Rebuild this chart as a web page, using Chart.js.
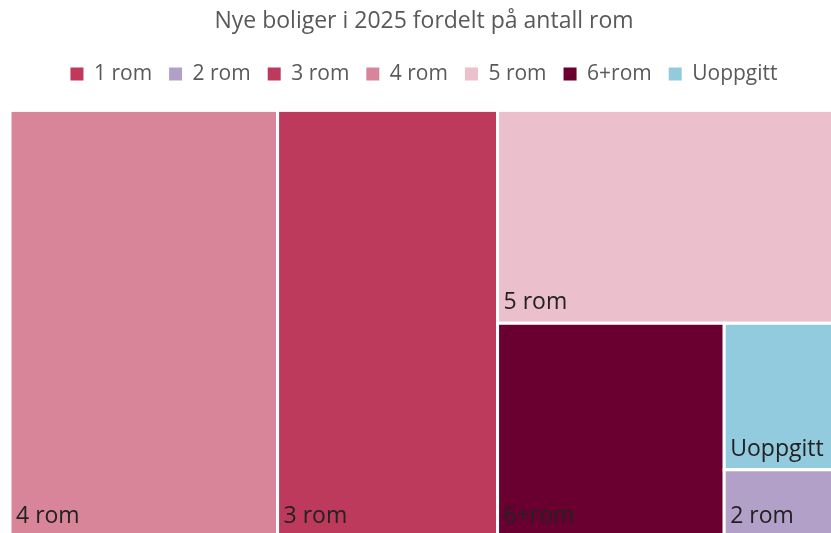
<!DOCTYPE html>
<html>
<head>
<meta charset="utf-8">
<script src="https://cdn.jsdelivr.net/npm/chart.js@4/dist/chart.umd.min.js"></script>
<style>
  html, body { margin: 0; padding: 0; background: #fff; overflow: hidden; }
  #wrap { position: absolute; left: 0; top: 0; width: 844px; height: 547px; }
</style>
</head>
<body>
<div id="wrap"><canvas id="chart" width="844" height="547"></canvas></div>
<script>
// Kategorier og antall nye boliger (lest av figuren)
const categories = ['1 rom', '2 rom', '3 rom', '4 rom', '5 rom', '6+rom', 'Uoppgitt'];
const values = [10, 380, 4785, 5820, 3695, 2470, 850];
const colors = ['#C2385C', '#B3A0C9', '#BD3A5C', '#D88599', '#EBBFCB', '#690030', '#92CBDD'];

const FONT = "'Open Sans', 'Noto Sans', sans-serif";

// squarified treemap, regner i piksler fra skalaene
function worst(row, side) {
    const s = row.reduce((a, r) => a + r.area, 0);
    let w = 0;
    row.forEach(r => {
        w = Math.max(w, (side * side * r.area) / (s * s), (s * s) / (side * side * r.area));
    });
    return w;
}

function placeRow(row, rect, out) {
    const s = row.reduce((a, r) => a + r.area, 0);
    if (rect.w >= rect.h) {
        const cw = s / rect.h;
        let y = rect.y;
        row.forEach(r => {
            const h = r.area / cw;
            out.push({ i: r.i, x: rect.x, y: y, w: cw, h: h });
            y += h;
        });
        return { x: rect.x + cw, y: rect.y, w: rect.w - cw, h: rect.h };
    } else {
        const rh = s / rect.w;
        let x = rect.x;
        row.forEach(r => {
            const w = r.area / rh;
            out.push({ i: r.i, x: x, y: rect.y, w: w, h: rh });
            x += w;
        });
        return { x: rect.x, y: rect.y + rh, w: rect.w, h: rect.h - rh };
    }
}

function squarify(items, rect) {
    const out = [];
    let row = [];
    const rest = items.slice();
    while (rest.length) {
        const side = Math.min(rect.w, rect.h);
        if (row.length === 0 || worst(row.concat([rest[0]]), side) <= worst(row, side)) {
            row.push(rest.shift());
        } else {
            rect = placeRow(row, rect, out);
            row = [];
        }
    }
    if (row.length) placeRow(row, rect, out);
    return out;
}

const treemapPlugin = {
    id: 'treemap',
    beforeDatasetsDraw(chart) {
        const { ctx, scales: { x, y } } = chart;
        const left = x.getPixelForValue(0), right = x.getPixelForValue(100);
        const top = y.getPixelForValue(0), bottom = y.getPixelForValue(100);
        const W = right - left, H = bottom - top;
        const total = values.reduce((a, b) => a + b, 0);

        const items = values
            .map((v, i) => ({ i: i, area: v / total * W * H }))
            .sort((a, b) => b.area - a.area);
        const rects = squarify(items, { x: left, y: top, w: W, h: H });

        ctx.save();
        rects.forEach(r => {
            ctx.fillStyle = colors[r.i];
            ctx.fillRect(r.x, r.y, r.w, r.h);
            ctx.strokeStyle = '#ffffff';
            ctx.lineWidth = 3;
            ctx.strokeRect(r.x, r.y, r.w, r.h);
        });
        // etiketter nede til venstre i hver rute
        ctx.font = '23px ' + FONT;
        ctx.fillStyle = '#222222';
        ctx.textBaseline = 'alphabetic';
        ctx.textAlign = 'left';
        rects.forEach(r => {
            if (r.w < 40 || r.h < 30) return;
            ctx.fillText(categories[r.i], r.x + 6, r.y + r.h - 14);
        });
        ctx.restore();
    }
};

new Chart(document.getElementById('chart'), {
    type: 'scatter',
    data: {
        datasets: categories.map((c, i) => ({
            label: c,
            data: [],
            backgroundColor: colors[i],
            borderWidth: 0
        }))
    },
    options: {
        responsive: false,
        animation: false,
        layout: { padding: { left: 10, right: 6, top: 4, bottom: 10 } },
        scales: {
            x: {
                type: 'linear', min: 0, max: 100, position: 'top',
                grid: { display: false }, ticks: { display: false }, border: { display: false },
                afterFit: s => { s.height = 16; }
            },
            y: { type: 'linear', min: 0, max: 100, reverse: true, display: false }
        },
        plugins: {
            title: {
                display: true,
                text: 'Nye boliger i 2025 fordelt på antall rom',
                color: '#595959',
                font: { family: FONT, size: 23, weight: 'normal' },
                padding: { top: 4, bottom: 10.8 }
            },
            legend: {
                position: 'top',
                onClick: null,
                labels: {
                    color: '#595959',
                    font: { family: FONT, size: 21 },
                    boxWidth: 13,
                    boxHeight: 13,
                    padding: 17
                }
            },
            tooltip: { enabled: false }
        }
    },
    plugins: [treemapPlugin]
});
</script>
</body>
</html>
